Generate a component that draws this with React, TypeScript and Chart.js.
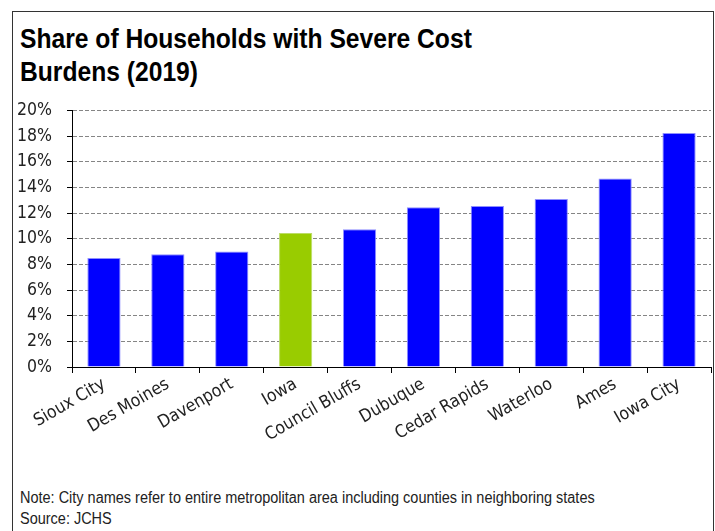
import { useEffect, useRef } from 'react';
import { Chart, registerables } from 'chart.js';

Chart.register(...registerables);

const categories = ['Sioux City', 'Des Moines', 'Davenport', 'Iowa', 'Council Bluffs', 'Dubuque', 'Cedar Rapids', 'Waterloo', 'Ames', 'Iowa City'];
const shares = [8.5, 8.8, 9.0, 10.45, 10.75, 12.45, 12.55, 13.1, 14.7, 18.25];
const yTickValues = [0, 2, 4, 6, 8, 10, 12, 14, 16, 18, 20];
const highlight = 'Iowa';
const titleLines = ['Share of Households with Severe Cost', 'Burdens (2019)'];
const noteLines = ['Note: City names refer to entire metropolitan area including counties in neighboring states', 'Source: JCHS'];

const FONT = "'DejaVu Sans Condensed', sans-serif";
const HTML_FONT = "'Liberation Sans', Arial, sans-serif";

export default function App() {
  const ref = useRef<HTMLCanvasElement>(null);
  useEffect(() => {
    const bg = categories.map((c) => (c === highlight ? '#99CC00' : '#0000FF'));
    const bd = categories.map((c) => (c === highlight ? '#bcdc66' : '#8f8fff'));
    const chart = new Chart(ref.current!, {
      type: 'bar',
      data: {
        labels: categories,
        datasets: [
          {
            data: shares,
            backgroundColor: bg,
            borderColor: bd,
            borderWidth: 1,
            barPercentage: 0.52,
            categoryPercentage: 1,
          },
        ],
      },
      options: {
        animation: false,
        responsive: false,
        layout: { padding: { left: 0, right: 1, top: 0, bottom: 0 } },
        plugins: { legend: { display: false }, tooltip: { enabled: false }, title: { display: false } },
        scales: {
          x: {
            grid: { offset: true, drawOnChartArea: false, tickLength: 6, tickColor: '#000', color: '#000' },
            border: { color: '#000', width: 1 },
            ticks: { minRotation: 30, maxRotation: 30, autoSkip: false, font: { family: FONT, size: 17.5 }, color: '#222', padding: 1 },
            afterFit: (s: any) => {
              s.height = 93;
            },
          },
          y: {
            min: 0,
            max: 20,
            afterBuildTicks: (s: any) => {
              s.ticks = yTickValues.map((v) => ({ value: v }));
            },
            ticks: {
              callback: (v: any) => v + '%',
              padding: 15,
              font: { family: FONT, size: 17.5 },
              color: '#222',
            },
            grid: { color: '#858585', tickColor: '#000', tickLength: 5, tickBorderDash: [] },
            border: { dash: [4, 2], color: '#000', width: 1 },
            afterFit: (s: any) => {
              s.width = 59;
            },
          },
        },
      },
    });
    return () => chart.destroy();
  }, []);

  return (
    <div style={{ position: 'absolute', left: 0, top: 0, width: 715, height: 531, background: '#fff', overflow: 'hidden' }}>
      <div style={{ position: 'absolute', left: 12, top: 11, width: 700, height: 540, border: '1px solid #333' }} />
      <div style={{ position: 'absolute', left: 20, top: 22, fontFamily: HTML_FONT, fontWeight: 'bold', fontSize: 28, lineHeight: '33px', color: '#000', whiteSpace: 'nowrap', transform: 'scaleX(0.88)', transformOrigin: 'left top' }}>
        {titleLines.map((t) => (
          <div key={t}>{t}</div>
        ))}
      </div>
      <canvas ref={ref} width={699} height={375} style={{ position: 'absolute', left: 13, top: 85, width: 699, height: 375 }} />
      <div style={{ position: 'absolute', left: 20, top: 487, fontFamily: HTML_FONT, fontSize: 16, lineHeight: '21px', color: '#222', whiteSpace: 'nowrap', transform: 'scaleX(0.905)', transformOrigin: 'left top' }}>
        {noteLines.map((t) => (
          <div key={t}>{t}</div>
        ))}
      </div>
    </div>
  );
}
